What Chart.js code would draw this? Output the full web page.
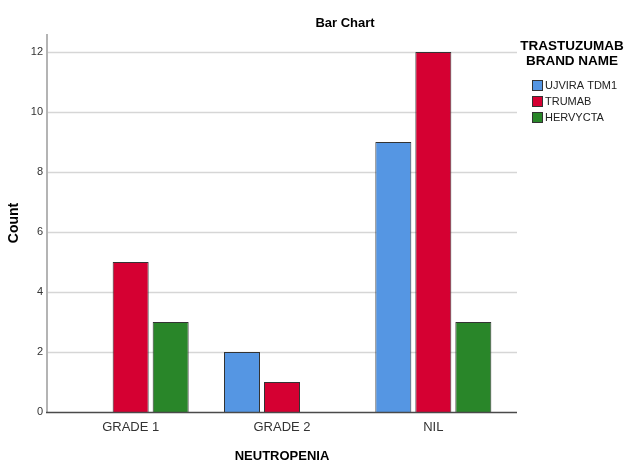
<!DOCTYPE html>
<html>
<head>
<meta charset="utf-8">
<script src="https://cdn.jsdelivr.net/npm/chart.js@4.4.1/dist/chart.umd.min.js"></script>
<style>
  html, body { margin: 0; padding: 0; background: #fff; }
  #wrap { width: 624px; height: 463px; position: relative; }
</style>
</head>
<body>
<div id="wrap"><canvas id="chart" width="624" height="463"></canvas></div>
<script>
const categories = ['GRADE 1', 'GRADE 2', 'NIL'];
const brands = ['UJVIRA TDM1', 'TRUMAB', 'HERVYCTA'];
const ujviraCounts = [0, 2, 9];
const trumabCounts = [5, 1, 12];
const hervyctaCounts = [3, 0, 3];
const yTicks = [0, 2, 4, 6, 8, 10, 12];

const colors = ['#5596e3', '#d50032', '#298629'];
const sans = '"Liberation Sans", Arial, sans-serif';

// axis lines and gridlines stick out past the bars like in SPSS
const spssAxes = {
  id: 'spssAxes',
  beforeDatasetsDraw(chart) {
    const { ctx, chartArea: a, scales: { y } } = chart;
    ctx.save();
    ctx.strokeStyle = '#d6d6d6';
    ctx.lineWidth = 1.5;
    for (const t of yTicks) {
      if (t === 0) continue;
      const py = Math.round(y.getPixelForValue(t)) + 0.5;
      ctx.beginPath();
      ctx.moveTo(a.left - 8, py);
      ctx.lineTo(a.right + 8, py);
      ctx.stroke();
    }
    ctx.strokeStyle = '#b4b4b4';
    ctx.lineWidth = 2;
    ctx.beginPath();
    ctx.moveTo(a.left - 8, a.top);
    ctx.lineTo(a.left - 8, a.bottom);
    ctx.stroke();
    ctx.restore();
  },
  afterDatasetsDraw(chart) {
    const { ctx, chartArea: a, scales: { y } } = chart;
    const py = Math.round(y.getPixelForValue(0)) + 0.5;
    ctx.save();
    ctx.strokeStyle = '#4a4a4a';
    ctx.lineWidth = 1.5;
    ctx.beginPath();
    ctx.moveTo(a.left - 9, py);
    ctx.lineTo(a.right + 8, py);
    ctx.stroke();
    ctx.restore();
  }
};

// title + legend drawn by hand (two line legend title)
const spssText = {
  id: 'spssText',
  afterDraw(chart) {
    const { ctx } = chart;
    ctx.save();
    ctx.fillStyle = '#000';
    ctx.textAlign = 'center';
    ctx.textBaseline = 'middle';
    ctx.font = 'bold 13px ' + sans;
    ctx.fillText('Bar Chart', 345, 23);
    ctx.font = 'bold 13.5px ' + sans;
    ctx.fillText('TRASTUZUMAB', 572, 46);
    ctx.fillText('BRAND NAME', 572, 61);

    ctx.textAlign = 'left';
    ctx.font = '11px ' + sans;
    chart.data.datasets.forEach((ds, i) => {
      const top = 80 + i * 16;
      ctx.fillStyle = ds.backgroundColor;
      ctx.fillRect(532, top, 11, 11);
      ctx.strokeStyle = '#333';
      ctx.lineWidth = 1;
      ctx.strokeRect(532.5, top + 0.5, 10, 10);
      ctx.fillStyle = '#222';
      ctx.fillText(ds.label, 545, top + 6);
    });
    ctx.restore();
  }
};

const data = {
  labels: categories,
  datasets: [
    { label: brands[0], data: ujviraCounts, backgroundColor: colors[0] },
    { label: brands[1], data: trumabCounts, backgroundColor: colors[1] },
    { label: brands[2], data: hervyctaCounts, backgroundColor: colors[2] }
  ].map(d => Object.assign(d, {
    borderColor: '#333',
    borderWidth: 1,
    categoryPercentage: 0.793,
    barPercentage: 0.9
  }))
};

new Chart(document.getElementById('chart'), {
  type: 'bar',
  data: data,
  plugins: [spssAxes, spssText],
  options: {
    responsive: false,
    animation: false,
    devicePixelRatio: 1,
    layout: { padding: { left: 0, top: 34, right: 115, bottom: 0 } },
    plugins: {
      legend: { display: false },
      title: { display: false },
      tooltip: { enabled: false }
    },
    scales: {
      x: {
        grid: { display: false, drawTicks: false },
        border: { display: false },
        ticks: { color: '#333', padding: 8, maxRotation: 0, autoSkip: false, font: { family: sans, size: 13 } },
        title: {
          display: true,
          text: 'NEUTROPENIA',
          color: '#000',
          padding: { top: 0, bottom: 0 },
          font: { family: sans, size: 13, weight: 'bold', lineHeight: 1 }
        },
        afterFit(s) { s.height = 51; }
      },
      y: {
        min: 0,
        max: 12.6,
        grid: { display: false, drawTicks: false },
        border: { display: false },
        ticks: { stepSize: 2, autoSkip: false, color: '#333', padding: 12, font: { family: sans, size: 11 } },
        afterBuildTicks(s) { s.ticks = yTicks.map(v => ({ value: v })); },
        title: {
          display: true,
          text: 'Count',
          color: '#000',
          padding: { top: 6, bottom: 0 },
          font: { family: sans, size: 14, weight: 'bold' }
        },
        afterFit(s) { s.width = 55; }
      }
    }
  }
});
</script>
</body>
</html>
